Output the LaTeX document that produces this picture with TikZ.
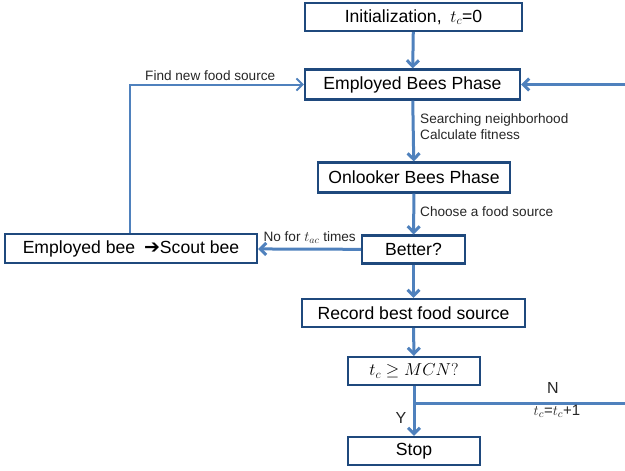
\documentclass[tikz,border=0pt]{standalone}
\usepackage{fontspec}
\setmainfont{Liberation Sans}
\newfontfamily\symfont{DejaVu Sans}
\usetikzlibrary{arrows.meta}
\definecolor{boxline}{HTML}{1F497D}
\definecolor{flow}{HTML}{4F81BD}
\tikzset{
    stepbox/.style={draw=boxline, line width=2.2pt, fill=white, inner sep=0pt,
        font=\fontsize{17.6}{20}\selectfont},
    flowline/.style={draw=flow, line width=3pt, -{Straight Barb[length=6pt,width=12pt]}},
    note/.style={font=\fontsize{13.6}{16}\selectfont, text=black!85, inner sep=1pt}
}
\begin{document}
\begin{tikzpicture}[x=1pt, y=-1pt]
    \useasboundingbox (0,0) rectangle (625,471);
    % boxes
    \node[stepbox, minimum width=217pt, minimum height=28pt] (init) at (413.5,17) {Initialization,\enspace$t_c$=0};
    \node[stepbox, minimum width=215pt, minimum height=30pt] (emp) at (412.5,84.5) {Employed Bees Phase};
    \node[stepbox, minimum width=192pt, minimum height=30pt] (onl) at (414,177.5) {Onlooker Bees Phase};
    \node[stepbox, minimum width=103pt, minimum height=28pt] (better) at (413.5,249.5) {Better?};
    \node[stepbox, minimum width=252pt, minimum height=29pt] (scout) at (131,248.5) {Employed bee\enspace{\symfont\bfseries\fontsize{19}{20}\selectfont ➔}Scout bee};
    \node[stepbox, minimum width=223pt, minimum height=28pt] (record) at (413.5,313) {Record best food source};
    \node[stepbox, minimum width=132pt, minimum height=28pt] (mcn) at (414,371) {$t_c \geq MCN?$};
    \node[stepbox, minimum width=132pt, minimum height=28pt] (stop) at (414,451) {Stop};
    % main flow
    \draw[flowline] (init) -- (emp);
    \draw[flowline] (emp) -- (onl);
    \draw[flowline] (onl) -- (better);
    \draw[flowline] (better) -- (record);
    \draw[flowline] (record) -- (mcn);
    \draw[flowline] (mcn) -- (stop);
    \draw[flowline] (better) -- (scout);
    % loops
    \draw[flowline, line width=2pt] (scout.north -| 130,0) |- (emp.west);
    \coordinate (split) at (414,403);
    \coordinate (edgeA) at (628,403);
    \coordinate (edgeB) at (628,84.5);
    \draw[flowline] (split) -- (edgeA) -- (edgeB) -- (emp.east);
    % labels
    \node[note, anchor=south west] (find) at (144,82) {Find new food source};
    \node[note, anchor=west, align=left] (search) at (419,127) {Searching neighborhood\\Calculate fitness};
    \node[note, anchor=west] (choose) at (419,212) {Choose a food source};
    \node[note, anchor=south east] (nofor) at (357,245) {No for $t_{ac}$ times};
    \node[note, font=\fontsize{16}{18}\selectfont] (nlab) at (553,388) {N};
    \node[note, font=\fontsize{16}{18}\selectfont] (ylab) at (401,418) {Y};
    \node[note, font=\fontsize{15}{18}\selectfont] (incr) at (557,411) {$t_c$=$t_c$+1};
\end{tikzpicture}
\end{document}
